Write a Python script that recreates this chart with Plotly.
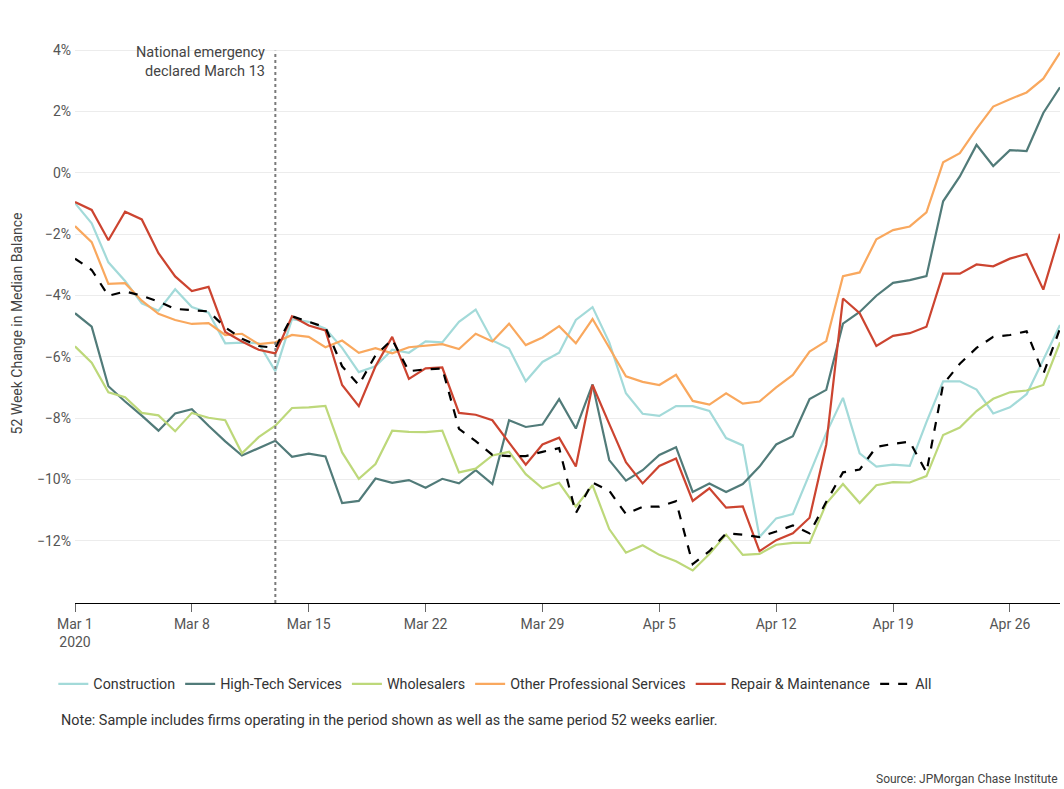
import pandas as pd
import plotly.graph_objects as go

dates = pd.date_range("2020-03-01", periods=60, freq="D")

construction = [-0.99, -1.65, -2.92, -3.53, -4.26, -4.50, -3.80, -4.38, -4.56, -5.56,
                -5.54, -5.56, -6.47, -4.77, -4.86, -5.08, -5.71, -6.50, -6.31, -5.77,
                -5.87, -5.50, -5.53, -4.86, -4.46, -5.47, -5.73, -6.80, -6.17, -5.87,
                -4.80, -4.38, -5.53, -7.19, -7.86, -7.93, -7.61, -7.61, -7.77, -8.65,
                -8.89, -11.88, -11.27, -11.13, -9.82, -8.49, -7.34, -9.15, -9.58, -9.52,
                -9.56, -8.13, -6.80, -6.80, -7.07, -7.85, -7.65, -7.22, -6.10, -4.96]

high_tech = [-4.58, -5.02, -6.96, -7.46, -7.92, -8.41, -7.85, -7.71, -8.25, -8.76,
             -9.22, -8.97, -8.74, -9.26, -9.16, -9.25, -10.77, -10.70, -9.97, -10.11,
             -10.02, -10.27, -9.98, -10.13, -9.70, -10.15, -8.07, -8.29, -8.21, -7.38,
             -8.34, -6.90, -9.37, -10.04, -9.70, -9.20, -8.95, -10.41, -10.13, -10.41,
             -10.15, -9.58, -8.86, -8.59, -7.38, -7.08, -4.92, -4.54, -4.01, -3.59,
             -3.50, -3.37, -0.93, -0.12, 0.91, 0.22, 0.74, 0.71, 1.95, 2.79]

wholesalers = [-5.66, -6.19, -7.16, -7.32, -7.83, -7.91, -8.43, -7.83, -7.99, -8.07,
               -9.15, -8.62, -8.25, -7.67, -7.65, -7.60, -9.12, -9.98, -9.50, -8.41,
               -8.45, -8.46, -8.41, -9.77, -9.65, -9.22, -9.10, -9.83, -10.29, -10.11,
               -10.89, -10.19, -11.62, -12.39, -12.15, -12.46, -12.67, -12.97, -12.43, -11.80,
               -12.46, -12.43, -12.13, -12.07, -12.07, -10.79, -10.15, -10.77, -10.19, -10.09,
               -10.10, -9.89, -8.55, -8.31, -7.77, -7.37, -7.16, -7.10, -6.92, -5.53]

other_prof = [-1.74, -2.26, -3.62, -3.60, -4.17, -4.60, -4.80, -4.93, -4.90, -5.29,
              -5.25, -5.59, -5.53, -5.29, -5.35, -5.69, -5.47, -5.87, -5.72, -5.89,
              -5.69, -5.65, -5.59, -5.75, -5.25, -5.50, -4.92, -5.62, -5.37, -5.00,
              -5.56, -4.77, -5.71, -6.64, -6.82, -6.92, -6.59, -7.44, -7.56, -7.19,
              -7.53, -7.46, -7.00, -6.59, -5.83, -5.49, -3.37, -3.25, -2.17, -1.87,
              -1.75, -1.29, 0.34, 0.64, 1.43, 2.16, 2.40, 2.62, 3.07, 3.92]

repair = [-0.95, -1.21, -2.20, -1.27, -1.52, -2.62, -3.38, -3.86, -3.72, -5.19,
          -5.50, -5.77, -5.89, -4.68, -4.98, -5.14, -6.92, -7.61, -6.31, -5.35,
          -6.72, -6.38, -6.35, -7.83, -7.89, -8.07, -8.80, -9.52, -8.86, -8.64,
          -9.58, -6.92, -8.19, -9.44, -10.13, -9.56, -9.32, -10.70, -10.29, -10.92,
          -10.88, -12.34, -11.98, -11.76, -11.25, -8.86, -4.10, -4.58, -5.65, -5.32,
          -5.23, -5.02, -3.29, -3.29, -2.99, -3.05, -2.80, -2.65, -3.81, -1.99]

all_firms = [-2.80, -3.17, -4.01, -3.87, -4.01, -4.20, -4.44, -4.47, -4.52, -5.04,
             -5.41, -5.65, -5.71, -4.68, -4.86, -5.04, -6.31, -6.92, -5.95, -5.44,
             -6.47, -6.41, -6.38, -8.35, -8.75, -9.20, -9.24, -9.24, -9.10, -8.98,
             -11.10, -10.10, -10.37, -11.13, -10.89, -10.89, -10.71, -12.76, -12.34, -11.76,
             -11.80, -11.88, -11.70, -11.50, -11.76, -10.73, -9.77, -9.68, -8.94, -8.84,
             -8.77, -9.77, -6.90, -6.23, -5.71, -5.35, -5.29, -5.17, -6.56, -5.08]

series_names = ["Construction", "High-Tech Services", "Wholesalers",
                "Other Professional Services", "Repair & Maintenance", "All"]
series_values = [construction, high_tech, wholesalers, other_prof, repair, all_firms]
series_colors = ["#a3dad9", "#517b79", "#bdd87a", "#f9a85e", "#cc4430", "#000000"]
series_dash = ["solid", "solid", "solid", "solid", "solid", "dash"]

tick_dates = ["2020-03-01", "2020-03-08", "2020-03-15", "2020-03-22", "2020-03-29",
              "2020-04-05", "2020-04-12", "2020-04-19", "2020-04-26"]
tick_text = ["Mar 1<br>2020", "Mar 8", "Mar 15", "Mar 22", "Mar 29",
             "Apr 5", "Apr 12", "Apr 19", "Apr 26"]
y_ticks = [-12, -10, -8, -6, -4, -2, 0, 2, 4]
y_tick_text = ["\u221212%", "\u221210%", "\u22128%", "\u22126%", "\u22124%",
               "\u22122%", "0%", "2%", "4%"]

FONT = "Roboto"

fig = go.Figure()
for name, vals, col, dash in zip(series_names, series_values, series_colors, series_dash):
    fig.add_trace(go.Scatter(
        x=dates, y=vals, name=name, mode="lines",
        line=dict(color=col, width=2.2, dash=dash),
    ))

fig.add_shape(type="line", x0="2020-03-13", x1="2020-03-13", xref="x",
              y0=0, y1=0.988, yref="paper",
              line=dict(color="#7a7a7a", width=2, dash="dot"))

fig.add_annotation(x="2020-03-13", xref="x", y=1.0, yref="paper",
                   xanchor="right", yanchor="top", xshift=-8, yshift=2,
                   align="right", showarrow=False,
                   text="National emergency<br>declared March 13",
                   font=dict(family=FONT, size=14.5, color="#444444"))

fig.add_annotation(x=-0.0589, xref="paper", y=0.5, yref="paper",
                   xanchor="center", yanchor="middle", textangle=-90, showarrow=False,
                   text="52 Week Change in Median Balance",
                   font=dict(family=FONT, size=14, color="#444444"))

fig.add_annotation(x=-0.016, xref="paper", y=-0.211, yref="paper",
                   xanchor="left", yanchor="middle", showarrow=False,
                   text="Note: Sample includes firms operating in the period shown as well as the same period 52 weeks earlier.",
                   font=dict(family=FONT, size=14.4, color="#333333"))

fig.add_annotation(x=1.0, xref="paper", y=-0.315, yref="paper",
                   xanchor="right", yanchor="middle", showarrow=False,
                   text="Source: JPMorgan Chase Institute",
                   font=dict(family=FONT, size=12, color="#444444"))

fig.update_layout(
    width=1064, height=789,
    margin=dict(l=75, r=4, t=44, b=186),
    paper_bgcolor="white", plot_bgcolor="white",
    font=dict(family=FONT, size=14, color="#555555"),
    showlegend=True,
    legend=dict(orientation="h", x=-0.022, y=-0.145, xanchor="left", yanchor="middle",
                font=dict(family=FONT, size=14.3, color="#333333"),
                itemwidth=30, tracegroupgap=0),
    xaxis=dict(
        type="date", range=["2020-03-01", "2020-04-29"],
        tickvals=tick_dates, ticktext=tick_text,
        showgrid=False, showline=True, linecolor="#000000", linewidth=1,
        ticks="outside", ticklen=8, tickcolor="#666666", tickwidth=1,
        tickfont=dict(family=FONT, size=14, color="#555555"),
        zeroline=False,
    ),
    yaxis=dict(
        range=[-14.03, 4.2], tickvals=y_ticks, ticktext=y_tick_text,
        showgrid=True, gridcolor="#ececec", gridwidth=1,
        zeroline=False, showline=False, ticks="",
        ticklabelstandoff=3,
        tickfont=dict(family=FONT, size=14, color="#555555"),
    ),
)

fig.write_html(
    "out.html",
    config={"displayModeBar": False},
    post_script="document.body.style.margin='0px';document.body.style.overflow='hidden';"
                "document.documentElement.style.overflow='hidden';",
)
